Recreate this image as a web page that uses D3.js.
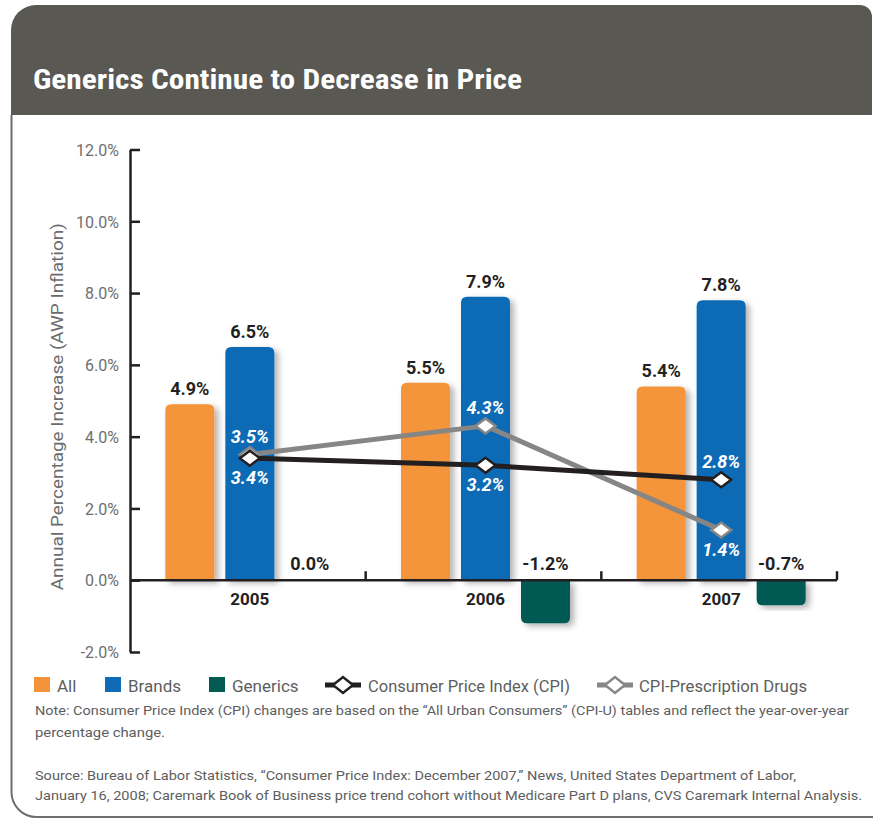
<!DOCTYPE html>
<html>
<head>
<meta charset="utf-8">
<script src="https://cdn.jsdelivr.net/npm/d3@7"></script>
<style>
  html, body { margin: 0; padding: 0; background: #ffffff; }
  svg { display: block; }
  text { font-family: Roboto, "Open Sans", "DejaVu Sans", sans-serif; }
</style>
</head>
<body>
<svg id="chart" width="873" height="818"></svg>
<script>
// ---------- data ----------
const years = ["2005", "2006", "2007"];
const seriesNames = ["All", "Brands", "Generics"];
const allValues = [4.9, 5.5, 5.4];
const brandValues = [6.5, 7.9, 7.8];
const genericValues = [0.0, -1.2, -0.7];
const cpiValues = [3.4, 3.2, 2.8];
const rxValues = [3.5, 4.3, 1.4];
const cpiLabelSide = ["below", "below", "above"];
const rxLabelSide = ["above", "above", "below"];
const yTicks = [-2, 0, 2, 4, 6, 8, 10, 12];
const seriesColors = ["#F4943A", "#0F6BB5", "#035A53"];
const titleText = "Generics Continue to Decrease in Price";
const yTitle = "Annual Percentage Increase (AWP Inflation)";
const legendLabels = ["All", "Brands", "Generics", "Consumer Price Index (CPI)", "CPI-Prescription Drugs"];
const noteLines = [
  "Note: Consumer Price Index (CPI) changes are based on the \u201CAll Urban Consumers\u201D (CPI-U) tables and reflect the year-over-year",
  "percentage change."
];
const sourceLines = [
  "Source: Bureau of Labor Statistics, \u201CConsumer Price Index: December 2007,\u201D News, United States Department of Labor,",
  "January 16, 2008; Caremark Book of Business price trend cohort without Medicare Part D plans, CVS Caremark Internal Analysis."
];

const barData = years.map((yr, i) => ({
  year: yr,
  values: [allValues[i], brandValues[i], genericValues[i]]
}));

// ---------- layout ----------
const svg = d3.select("#chart");
const dark = "#231F20";
const gray = "#868686";
const textGray = "#5d5e60";

// frame / header
svg.append("path")
  .attr("d", "M11,115 V30 A25,25 0 0 1 36,5 H860 A12,12 0 0 1 872,17 V115 Z")
  .attr("fill", "#5A5853");
svg.append("path")
  .attr("d", "M11.5,115 V792 A25,25 0 0 0 36.5,817 H873")
  .attr("fill", "none")
  .attr("stroke", "#6d6e70")
  .attr("stroke-width", 2);

svg.append("text")
  .attr("x", 33).attr("y", 89)
  .attr("fill", "#ffffff")
  .attr("font-family", "'Liberation Sans Narrow', 'DejaVu Sans Condensed', Roboto, sans-serif")
  .attr("font-stretch", "condensed")
  .attr("font-weight", "bold")
  .attr("font-size", 27)
  .attr("textLength", 489)
  .attr("lengthAdjust", "spacingAndGlyphs")
  .text(titleText);

// scales
const y = d3.scaleLinear().domain([-2, 12]).range([652, 149.5]);
const x0 = d3.scaleBand().domain(years).range([130, 837]).padding(0);
const groupWidth = 169;
const groupOffset = (x0.bandwidth() - groupWidth) / 2 + 2;
const x1 = d3.scaleBand().domain(seriesNames).range([0, groupWidth]).paddingInner(0.183).paddingOuter(0);

// defs: shadow
const defs = svg.append("defs");
const f = defs.append("filter").attr("id", "shadow")
  .attr("x", "-30%").attr("y", "-10%").attr("width", "160%").attr("height", "130%");
f.append("feDropShadow")
  .attr("dx", 4).attr("dy", 3).attr("stdDeviation", 3)
  .attr("flood-color", "#000").attr("flood-opacity", 0.3);

// y axis
const yAxis = d3.axisLeft(y)
  .tickValues(yTicks)
  .tickSize(-10)
  .tickSizeOuter(0)
  .tickPadding(11)
  .tickFormat(d => d.toFixed(1) + "%");
const gy = svg.append("g").attr("transform", `translate(${x0.range()[0]},0)`).call(yAxis);
gy.select(".domain").attr("stroke", dark).attr("stroke-width", 2.5);
gy.selectAll(".tick line").attr("stroke", dark).attr("stroke-width", 2.5);
gy.selectAll(".tick text")
  .attr("fill", "#6d6e70")
  .attr("font-size", 16)
  .attr("font-family", "Roboto, sans-serif")
  .attr("dy", "0.36em");

// y title
svg.append("text")
  .attr("transform", `translate(63,${(y(-2) + y(12)) / 2 + 6}) rotate(-90)`)
  .attr("text-anchor", "middle")
  .attr("fill", "#6a6b6d")
  .attr("font-size", 17)
  .attr("textLength", 367)
  .attr("lengthAdjust", "spacingAndGlyphs")
  .text(yTitle);

// bars
function barPath(x, w, v) {
  const yb = y(0), yt = y(v);
  const h = Math.abs(yt - yb);
  if (h < 0.5) return "";
  const r = Math.min(6, h);
  const s = v > 0 ? 1 : -1;
  return `M${x},${yb} V${yt + s * r} Q${x},${yt} ${x + r},${yt} H${x + w - r} Q${x + w},${yt} ${x + w},${yt + s * r} V${yb} Z`;
}

const groups = svg.append("g").selectAll("g")
  .data(barData).join("g")
  .attr("transform", d => `translate(${x0(d.year) + groupOffset},0)`);

groups.selectAll("path")
  .data(d => d.values.map((v, i) => ({ v, name: seriesNames[i], color: seriesColors[i] })))
  .join("path")
  .attr("d", d => barPath(x1(d.name), x1.bandwidth(), d.v))
  .attr("fill", d => d.color)
  .attr("filter", "url(#shadow)");

// bar value labels
groups.selectAll("text.val")
  .data(d => d.values.map((v, i) => ({ v, name: seriesNames[i] })))
  .join("text")
  .attr("class", "val")
  .attr("x", d => x1(d.name) + x1.bandwidth() / 2)
  .attr("y", d => d.v > 0 ? y(d.v) - 9 : y(0) - 10)
  .attr("text-anchor", "middle")
  .attr("fill", dark)
  .attr("font-weight", "bold")
  .attr("font-size", 18)
  .text(d => d.v.toFixed(1) + "%");

// x axis baseline + boundary ticks
const xr = x0.range();
svg.append("line")
  .attr("x1", xr[0]).attr("x2", xr[1])
  .attr("y1", y(0)).attr("y2", y(0))
  .attr("stroke", dark).attr("stroke-width", 2.5);
svg.append("g").selectAll("line")
  .data(years)
  .join("line")
  .attr("x1", d => x0(d) + x0.bandwidth())
  .attr("x2", d => x0(d) + x0.bandwidth())
  .attr("y1", y(0)).attr("y2", y(0) - 9)
  .attr("stroke", dark).attr("stroke-width", 2.5);

// year labels (centered under the middle bar)
svg.append("g").selectAll("text")
  .data(years)
  .join("text")
  .attr("x", d => x0(d) + groupOffset + x1("Brands") + x1.bandwidth() / 2)
  .attr("y", y(0) + 25)
  .attr("text-anchor", "middle")
  .attr("fill", dark)
  .attr("font-weight", "bold")
  .attr("font-size", 17)
  .text(d => d);

// lines
const px = yr => x0(yr) + groupOffset + x1("Brands") + x1.bandwidth() / 2;
const lineGen = d3.line().x(d => px(d.year)).y(d => y(d.v));
const cpiData = years.map((yr, i) => ({ year: yr, v: cpiValues[i], side: cpiLabelSide[i] }));
const rxData = years.map((yr, i) => ({ year: yr, v: rxValues[i], side: rxLabelSide[i] }));

function diamond(cx, cy, hw, hh) {
  return `M${cx - hw},${cy} L${cx},${cy - hh} L${cx + hw},${cy} L${cx},${cy + hh} Z`;
}

function drawLine(data, color) {
  svg.append("path")
    .datum(data)
    .attr("d", lineGen)
    .attr("fill", "none")
    .attr("stroke", color)
    .attr("stroke-width", 5)
    .attr("stroke-linejoin", "round");
}
function drawMarkers(data, color) {
  svg.append("g").selectAll("path")
    .data(data).join("path")
    .attr("d", d => diamond(px(d.year), y(d.v), 10, 7.5))
    .attr("fill", "#ffffff")
    .attr("stroke", color)
    .attr("stroke-width", 2.5);
}
function drawLabels(data) {
  svg.append("g").selectAll("text")
    .data(data).join("text")
    .attr("x", d => px(d.year))
    .attr("y", d => d.side === "above" ? y(d.v) - 12 : y(d.v) + 26)
    .attr("text-anchor", "middle")
    .attr("fill", "#ffffff")
    .attr("font-weight", "bold")
    .attr("font-style", "italic")
    .attr("font-size", 18)
    .text(d => d.v.toFixed(1) + "%");
}
drawLine(rxData, gray);
drawLine(cpiData, dark);
drawMarkers(rxData, gray);
drawMarkers(cpiData, dark);
drawLabels(rxData);
drawLabels(cpiData);

// legend
const legendY = 685;
const legend = svg.append("g");
const swatchX = [34, 105, 209];
seriesNames.forEach((name, i) => {
  legend.append("rect")
    .attr("x", swatchX[i]).attr("y", legendY - 8)
    .attr("width", 16).attr("height", 15)
    .attr("fill", seriesColors[i]);
  legend.append("text")
    .attr("x", swatchX[i] + 23).attr("y", legendY + 7)
    .attr("fill", textGray)
    .attr("font-size", 17)
    .text(legendLabels[i]);
});
const lineLegend = [
  { x: 325, color: dark, label: legendLabels[3], tx: 368, tl: 202 },
  { x: 597, color: gray, label: legendLabels[4], tx: 639, tl: 168 }
];
lineLegend.forEach(d => {
  legend.append("line")
    .attr("x1", d.x).attr("x2", d.x + 36)
    .attr("y1", legendY).attr("y2", legendY)
    .attr("stroke", d.color).attr("stroke-width", 5);
  legend.append("path")
    .attr("d", diamond(d.x + 18, legendY, 10, 8))
    .attr("fill", "#ffffff")
    .attr("stroke", d.color)
    .attr("stroke-width", 2.5);
  legend.append("text")
    .attr("x", d.tx).attr("y", legendY + 7)
    .attr("fill", textGray)
    .attr("font-size", 17)
    .attr("textLength", d.tl)
    .attr("lengthAdjust", "spacingAndGlyphs")
    .text(d.label);
});

// notes
const noteWidths = [814, 130];
noteLines.forEach((t, i) => {
  svg.append("text")
    .attr("x", 35).attr("y", 715 + i * 22)
    .attr("fill", textGray)
    .attr("font-size", 13.5)
    .attr("textLength", noteWidths[i])
    .attr("lengthAdjust", "spacingAndGlyphs")
    .text(t);
});
const sourceWidths = [761, 827];
sourceLines.forEach((t, i) => {
  svg.append("text")
    .attr("x", 35).attr("y", 780 + i * 20)
    .attr("fill", textGray)
    .attr("font-size", 13.5)
    .attr("textLength", sourceWidths[i])
    .attr("lengthAdjust", "spacingAndGlyphs")
    .text(t);
});
</script>
</body>
</html>
